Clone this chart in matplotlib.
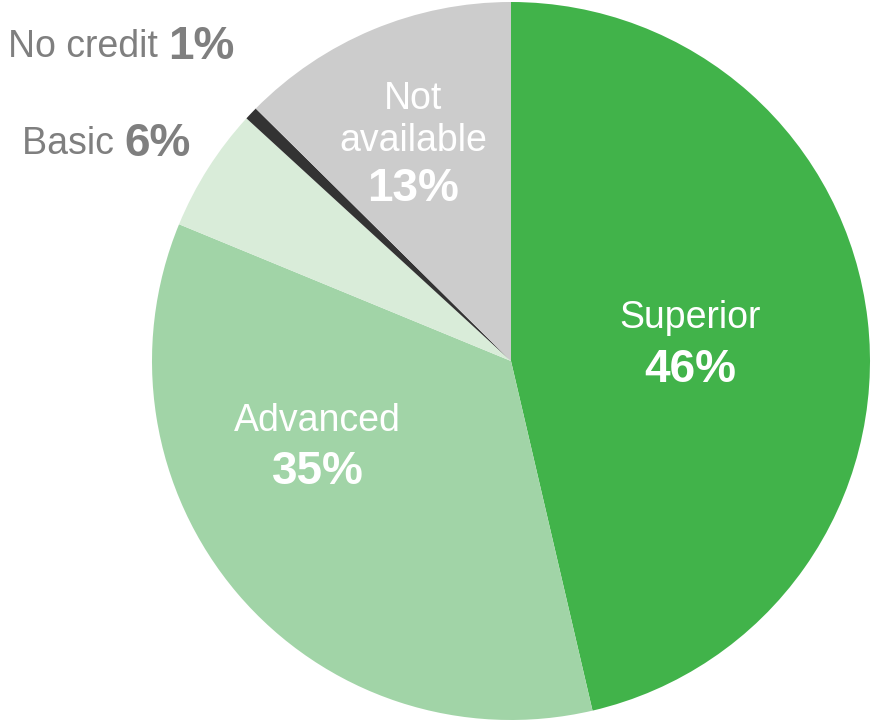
import matplotlib.pyplot as plt

plt.rcParams['font.family'] = ['Liberation Sans', 'DejaVu Sans']

# ===============================
# DATA
# ===============================
categories = ["Superior", "Advanced", "Basic", "No credit", "Not available"]
shares = [46.4, 34.9, 5.6, 0.6, 12.6]
colors = ["#41b34a", "#a1d4a7", "#d9ecd9", "#333333", "#cccccc"]

GREY = "#7f7f7f"
REG = 27
BOLD = 33


def pct(v):
    return f"{v:.0f}%"


# ===============================
# PLOT
# ===============================
fig = plt.figure(figsize=(8.71, 7.21), dpi=100)
ax = fig.add_axes([152 / 871, 1 / 721, 718 / 871, 718 / 721])

ax.pie(shares, colors=colors, startangle=90, counterclock=False,
       radius=1.0, wedgeprops=dict(linewidth=0))
ax.set_xlim(-1, 1)
ax.set_ylim(-1, 1)
ax.set_aspect("equal")
ax.axis("off")

# labels inside the slices
ax.text(0.499, 0.12, categories[0], color="white", fontsize=REG, ha="center", va="center")
ax.text(0.499, -0.025, pct(shares[0]), color="white", fontsize=BOLD, fontweight="bold",
        ha="center", va="center")
ax.text(-0.538, -0.167, categories[1], color="white", fontsize=REG, ha="center", va="center")
ax.text(-0.538, -0.31, pct(shares[1]), color="white", fontsize=BOLD, fontweight="bold",
        ha="center", va="center")
ax.text(-0.273, 0.73, "Not", color="white", fontsize=REG, ha="center", va="center")
ax.text(-0.273, 0.613, "available", color="white", fontsize=REG, ha="center", va="center")
ax.text(-0.273, 0.48, pct(shares[4]), color="white", fontsize=BOLD, fontweight="bold",
        ha="center", va="center")

# labels outside the small slices
ax.text(-1.078, 0.605, categories[2] + " ", color=GREY, fontsize=REG, ha="right",
        va="center", clip_on=False)
ax.text(-1.078, 0.605, pct(shares[2]), color=GREY, fontsize=BOLD, fontweight="bold",
        ha="left", va="center", clip_on=False)
ax.text(-0.956, 0.875, categories[3] + " ", color=GREY, fontsize=REG, ha="right",
        va="center", clip_on=False)
ax.text(-0.956, 0.875, pct(shares[3]), color=GREY, fontsize=BOLD, fontweight="bold",
        ha="left", va="center", clip_on=False)

fig.savefig("out.png", dpi=100, facecolor="white")
